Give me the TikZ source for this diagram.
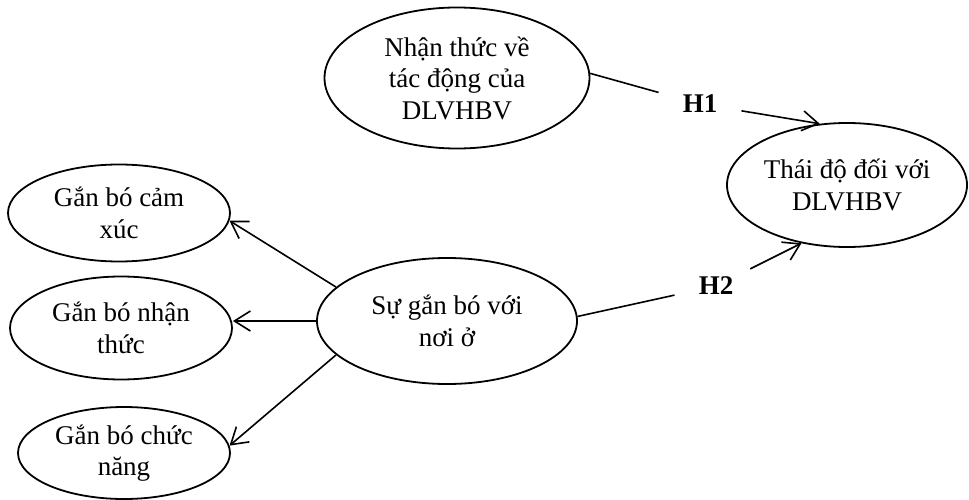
\documentclass[tikz,border=0pt]{standalone}
\usepackage{fontspec}
\setmainfont{Liberation Serif}
\usetikzlibrary{arrows.meta,shapes.geometric}

\begin{document}
\begin{tikzpicture}[x=1pt,y=-1pt,
  concept/.style={ellipse,draw,line width=1.8pt,inner sep=0pt,align=center,
    font=\fontsize{27}{31.5}\selectfont},
  hlabel/.style={inner xsep=24pt,inner ysep=8pt,font=\fontsize{27}{30}\selectfont\bfseries},
  link/.style={line width=1.6pt},
  arrow/.style={link,-{Straight Barb[length=16pt,width=20pt]}}]
\useasboundingbox (0,0) rectangle (969,500);

% constructs
\node[concept,minimum width=265pt,minimum height=141pt] (perc) at (457,78)
  {Nhận thức về\\tác động của\\DLVHBV};
\node[concept,minimum width=240pt,minimum height=124pt] (att) at (847,185)
  {Thái độ đối với\\DLVHBV};
\node[concept,minimum width=260pt,minimum height=126pt] (place) at (447,321)
  {Sự gắn bó với\\nơi ở};
\node[concept,minimum width=222pt,minimum height=97pt] (emo) at (119,213)
  {Gắn bó cảm\\xúc};
\node[concept,minimum width=222pt,minimum height=103pt] (cog) at (121,328)
  {Gắn bó nhận\\thức};
\node[concept,minimum width=212pt,minimum height=92pt] (fun) at (124,453)
  {Gắn bó chức\\năng};

% hypothesis labels
\node[hlabel] (h1) at (700,104) {H1};
\node[hlabel] (h2) at (716,286) {H2};

% hypothesised paths
\draw[link] (perc.2) -- (h1);
\draw[arrow] (h1) -- (att.114);
\draw[link] (place.2) -- (h2);
\draw[arrow] (h2) -- (att.232);

% dimensions of place attachment
\draw[arrow] (place.163) -- (emo.-4);
\draw[arrow] (place.west) -- (place.west -| cog.east);
\draw[arrow] (place.197) -- (fun.4);
\end{tikzpicture}
\end{document}
